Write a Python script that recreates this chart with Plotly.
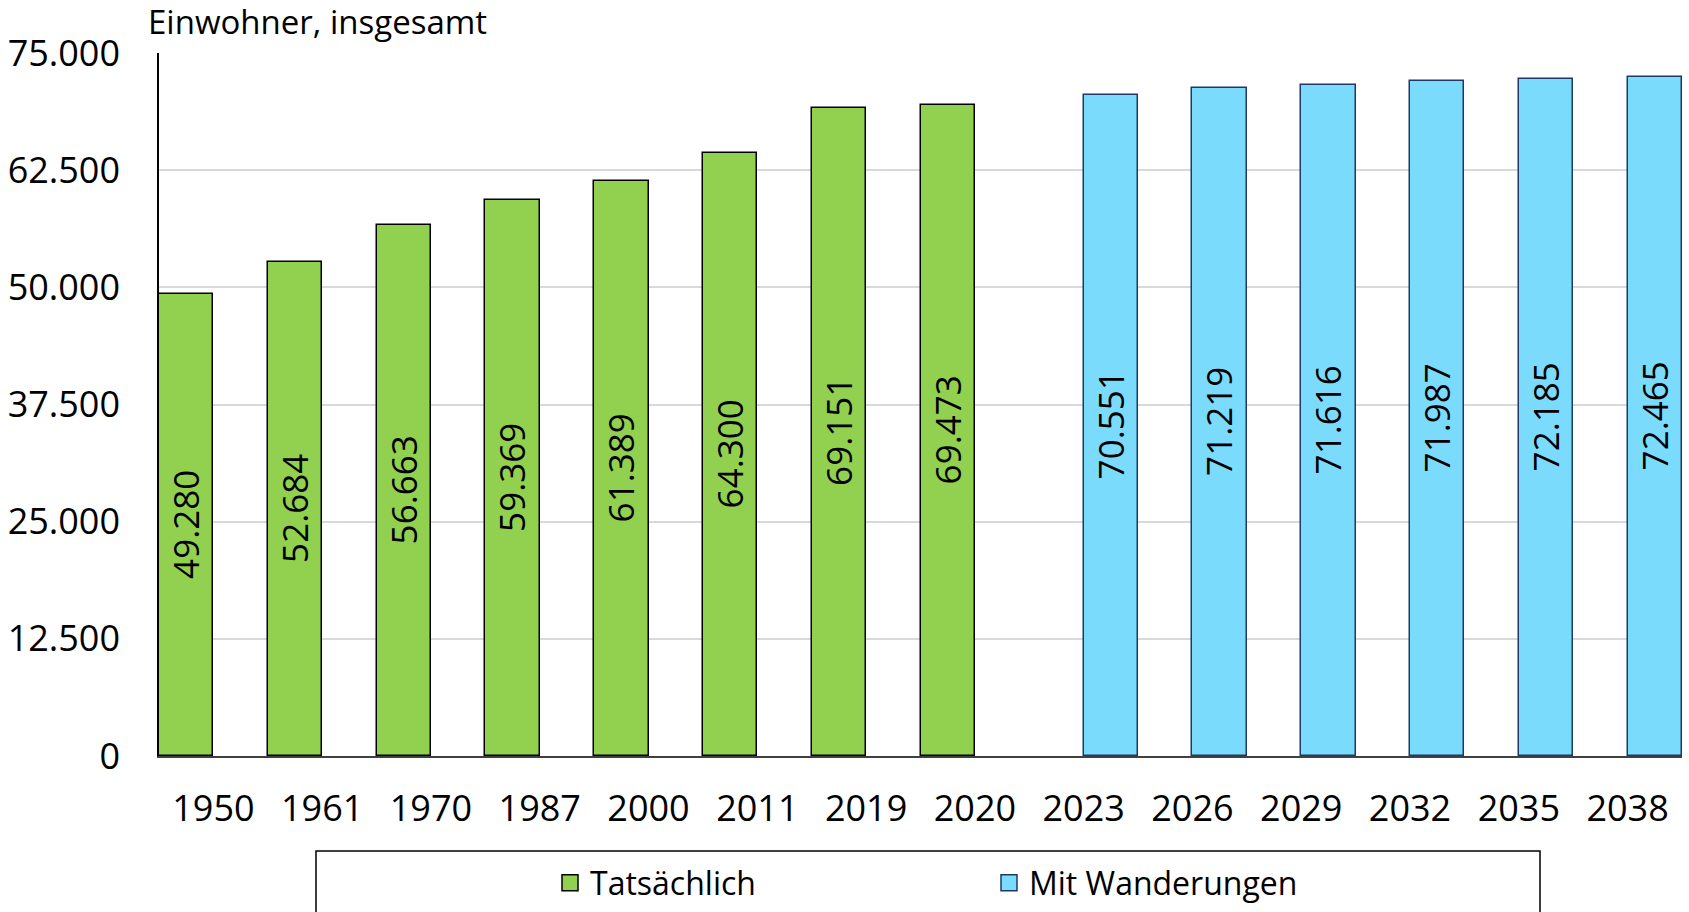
import plotly.graph_objects as go

years = ["1950", "1961", "1970", "1987", "2000", "2011", "2019", "2020",
         "2023", "2026", "2029", "2032", "2035", "2038"]
actual = [49280, 52684, 56663, 59369, 61389, 64300, 69151, 69473,
          None, None, None, None, None, None]
projected = [None, None, None, None, None, None, None, None,
             70551, 71219, 71616, 71987, 72185, 72465]
yticks = [0, 12500, 25000, 37500, 50000, 62500, 75000]

FONT = "Open Sans"
W, H = 1689, 912
L, R, T, B = 159, 7, 53, 156
PW, PH = W - L - R, H - T - B

GREEN, GREEN_LINE = "#92D050", "#000000"
BLUE, BLUE_LINE = "#7BDBFD", "#1F3864"

fig = go.Figure()
fig.add_trace(go.Bar(
    x=years, y=actual, name="Tatsächlich", showlegend=False,
    marker=dict(color=GREEN, line=dict(color=GREEN_LINE, width=1.5)),
    texttemplate="%{y:,}", textposition="inside", textangle=-90,
    insidetextanchor="middle", constraintext="none",
    textfont=dict(family=FONT, size=35, color="#000000"),
))
fig.add_trace(go.Bar(
    x=years, y=projected, name="Mit Wanderungen", showlegend=False,
    marker=dict(color=BLUE, line=dict(color=BLUE_LINE, width=1.5)),
    texttemplate="%{y:,}", textposition="inside", textangle=-90,
    insidetextanchor="middle", constraintext="none",
    textfont=dict(family=FONT, size=35, color="#000000"),
))
# legend entries (larger square symbols)
for nm, col, lc in [("Tatsächlich", GREEN, GREEN_LINE),
                    ("Mit Wanderungen", BLUE, BLUE_LINE)]:
    fig.add_trace(go.Scatter(
        x=[None], y=[None], mode="markers", name=nm,
        marker=dict(symbol="square", size=16, color=col,
                    line=dict(color=lc, width=1.5)),
        hoverinfo="skip",
    ))

fig.update_layout(
    width=W, height=H,
    margin=dict(l=L, r=R, t=T, b=B, autoexpand=False),
    paper_bgcolor="white", plot_bgcolor="white",
    barmode="group", bargap=0, bargroupgap=0,
    separators=",.",
    font=dict(family=FONT, size=36, color="#000000"),
    showlegend=True,
    legend=dict(
        orientation="h", x=(550 - L) / PW, xanchor="left",
        y=-(883 - (H - B)) / PH, yanchor="middle",
        font=dict(family=FONT, size=32, color="#000000"),
        entrywidth=394, entrywidthmode="pixels",
        bgcolor="rgba(0,0,0,0)", borderwidth=0,
        itemsizing="trace", itemwidth=30,
    ),
    xaxis=dict(
        type="category", showgrid=False,
        showline=True, linecolor="#404040", linewidth=1.5,
        ticks="", ticklabelstandoff=20,
        tickfont=dict(family=FONT, size=36, color="#000000"),
    ),
    yaxis=dict(
        range=[0, 75000], tickvals=yticks, tickformat=",",
        showgrid=True, gridcolor="#D9D9D9", gridwidth=1.5,
        showline=True, linecolor="#000000", linewidth=1.5,
        zeroline=False, ticks="", ticklabelstandoff=30,
        tickfont=dict(family=FONT, size=36, color="#000000"),
    ),
    annotations=[dict(
        text="Einwohner, insgesamt", xref="paper", yref="paper",
        x=(146 - L) / PW, y=1 + (T - 22) / PH,
        xanchor="left", yanchor="middle", showarrow=False,
        font=dict(family=FONT, size=33, color="#000000"),
    )],
    shapes=[dict(
        type="rect", xref="paper", yref="paper",
        x0=(316 - L) / PW, x1=(1540 - L) / PW,
        y0=-(930 - (H - B)) / PH, y1=-(851 - (H - B)) / PH,
        line=dict(color="#000000", width=1.5), fillcolor="rgba(0,0,0,0)",
        layer="above",
    )],
)

fig.write_html("out.html", config={"displayModeBar": False},
               post_script="document.body.style.margin='0';")
